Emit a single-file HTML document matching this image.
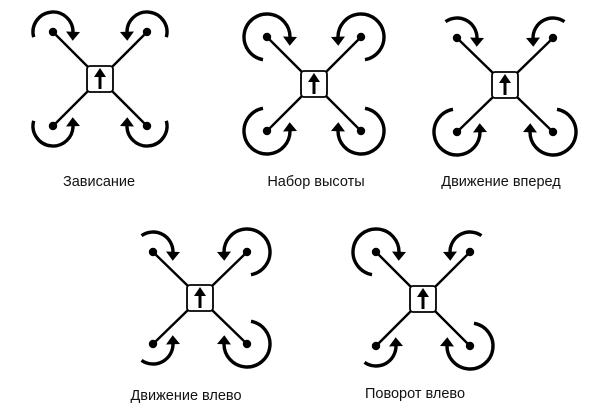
<!DOCTYPE html>
<html><head><meta charset="utf-8"><style>
html,body{margin:0;padding:0;background:#fff;width:612px;height:409px;overflow:hidden}
svg{position:absolute;left:0;top:0}
.t{font-family:"Liberation Sans","DejaVu Sans",sans-serif;font-size:14.5px;fill:#111}
</style></head><body>
<svg id="s" width="612" height="409" viewBox="0 0 612 409" xmlns="http://www.w3.org/2000/svg">
<text class="t" x="99" y="186" text-anchor="middle">Зависание</text>
<text class="t" x="316" y="186" text-anchor="middle">Набор высоты</text>
<text class="t" x="501" y="186" text-anchor="middle">Движение вперед</text>
<text class="t" x="186" y="400" text-anchor="middle">Движение влево</text>
<text class="t" x="415" y="398" text-anchor="middle">Поворот влево</text>
</svg>
<script>
(function(){
var s=document.getElementById('s'),NS='http://www.w3.org/2000/svg';
function el(n,a){var e=document.createElementNS(NS,n);for(var k in a)e.setAttribute(k,a[k]);s.appendChild(e);return e;}
var types={S:[165,20],L:[100,23],W:[235,20]};
function rot(mx,my,t,sx,sy){
  var st=types[t][0],r=types[t][1],en=362;
  function P(a){a=a*Math.PI/180;return [mx+sx*r*Math.cos(a),my+sy*r*Math.sin(a)];}
  var p0=P(st),p1=P(en),large=(en-st)>180?1:0,sweep=(sx*sy>0)?1:0;
  el('path',{d:'M'+p0[0]+' '+p0[1]+' A'+r+' '+r+' 0 '+large+' '+sweep+' '+p1[0]+' '+p1[1],fill:'none',stroke:'#000','stroke-width':3.4});
  var a=en*Math.PI/180,tx=-Math.sin(a)*sx,ty=Math.cos(a)*sy,nx=-ty,ny=tx;
  var tip=[p1[0]+tx*8,p1[1]+ty*8],b1=[p1[0]-tx*1+nx*7,p1[1]-ty*1+ny*7],b2=[p1[0]-tx*1-nx*7,p1[1]-ty*1-ny*7];
  el('polygon',{points:tip.join(',')+' '+b1.join(',')+' '+b2.join(','),fill:'#000'});
}
function drone(cx,cy,ox,oy,cfg){
  var m=[[-1,-1],[1,-1],[-1,1],[1,1]];
  for(var i=0;i<4;i++){
    var mx=cx+m[i][0]*ox,my=cy+m[i][1]*oy;
    el('line',{x1:mx,y1:my,x2:cx+m[i][0]*12,y2:cy+m[i][1]*12,stroke:'#000','stroke-width':2.4});
    el('circle',{cx:mx,cy:my,r:4.2,fill:'#000'});
    rot(mx,my,cfg[i],m[i][0]*-1,m[i][1]*-1);
  }
  el('rect',{x:cx-13,y:cy-13,width:26,height:26,rx:3,fill:'#fff',stroke:'#000','stroke-width':1.8});
  el('line',{x1:cx,y1:cy+10,x2:cx,y2:cy-4,stroke:'#000','stroke-width':3});
  el('polygon',{points:(cx)+','+(cy-11)+' '+(cx-6)+','+(cy-2)+' '+(cx+6)+','+(cy-2),fill:'#000'});
}
drone(100,79,47,47,['S','S','S','S']);
drone(314,84,47,47,['L','L','L','L']);
drone(505,85,48,47,['W','W','L','L']);
drone(200,298,47,46,['W','L','W','L']);
drone(423,299,47,47,['L','W','W','L']);
})();
</script>
</body></html>
